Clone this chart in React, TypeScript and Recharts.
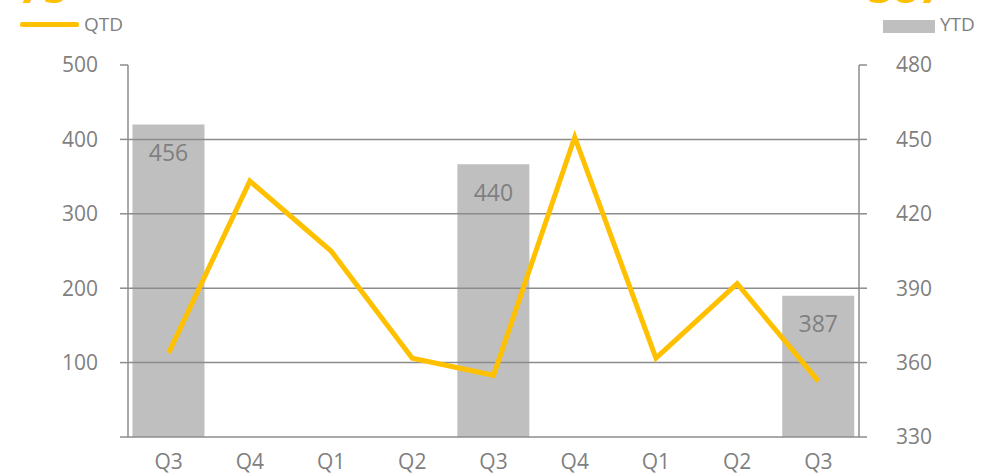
import React from "react";
import {
  ComposedChart,
  Bar,
  Line,
  XAxis,
  YAxis,
  ReferenceLine,
  LabelList,
} from "recharts";

// quarters on the x axis
const quarters = ["Q3", "Q4", "Q1", "Q2", "Q3", "Q4", "Q1", "Q2", "Q3"];
// QTD line (left axis)
const qtd = [113, 344, 250, 106, 83, 403, 106, 206, 75];
// YTD bars (right axis), only on the Q3 quarters
const ytd = [456, null, null, null, 440, null, null, null, 387];

const leftTicks = [0, 100, 200, 300, 400, 500];
const rightTicks = [330, 360, 390, 420, 450, 480];
const gridLines = [100, 200, 300, 400];

const axisColor = "#8c8c8c";
const textColor = "#7f7f7f";
const yellow = "#FFC000";
const barGray = "#BFBFBF";
const font = "'Open Sans', 'Liberation Sans', sans-serif";

const data = quarters.map((q, i) => ({ q, qtd: qtd[i], ytd: ytd[i] }));

export default function App() {
  const tickStyle = { fill: textColor, fontSize: 21, fontFamily: font };
  return (
    <div
      style={{
        position: "absolute",
        left: 0,
        top: 0,
        width: 982,
        height: 473,
        background: "#fff",
        overflow: "hidden",
        fontFamily: font,
      }}
    >
      {/* cut-off big numbers at the very top */}
      <div style={{ position: "absolute", left: 18, top: -44, fontSize: 44, color: yellow, fontWeight: 700 }}>
        75
      </div>
      <div style={{ position: "absolute", left: 868, top: -44, fontSize: 44, color: yellow, fontWeight: 700 }}>
        387
      </div>

      {/* legends */}
      <div style={{ position: "absolute", left: 20, top: 22, width: 59, height: 5, background: yellow, borderRadius: 2 }} />
      <div style={{ position: "absolute", left: 84, top: 11, fontSize: 19, color: textColor }}>QTD</div>
      <div style={{ position: "absolute", left: 883, top: 20, width: 52, height: 13, background: barGray }} />
      <div style={{ position: "absolute", left: 940, top: 11, fontSize: 19, color: textColor }}>YTD</div>

      <ComposedChart
        width={982}
        height={473}
        data={data}
        margin={{ top: 65, right: 0, bottom: 0, left: 0 }}
        barCategoryGap="5.5%"
      >
        <XAxis
          dataKey="q"
          height={36}
          tickLine={false}
          axisLine={{ stroke: axisColor, strokeWidth: 1.5 }}
          tick={tickStyle}
          tickMargin={11}
          interval={0}
        />
        <YAxis
          yAxisId="left"
          orientation="left"
          width={128}
          domain={[0, 500]}
          ticks={leftTicks}
          tickFormatter={(v) => (v === 0 ? "" : String(v))}
          axisLine={{ stroke: axisColor, strokeWidth: 1.5 }}
          tickLine={{ stroke: axisColor, strokeWidth: 1.5 }}
          tickSize={8}
          tickMargin={22}
          tick={tickStyle}
        />
        <YAxis
          yAxisId="right"
          orientation="right"
          width={123}
          domain={[330, 480]}
          ticks={rightTicks}
          axisLine={{ stroke: axisColor, strokeWidth: 1.5 }}
          tickLine={{ stroke: axisColor, strokeWidth: 1.5 }}
          tickSize={8}
          tickMargin={29}
          tick={tickStyle}
          allowDataOverflow
        />
        {gridLines.map((v) => (
          <ReferenceLine key={v} yAxisId="left" y={v} stroke={axisColor} strokeWidth={1.5} />
        ))}
        <Bar yAxisId="right" dataKey="ytd" fill={barGray} isAnimationActive={false}>
          <LabelList
            dataKey="ytd"
            position="insideTop"
            offset={20}
            style={{ fill: textColor, fontSize: 23, fontFamily: font }}
          />
        </Bar>
        <Line
          yAxisId="left"
          dataKey="qtd"
          type="linear"
          stroke={yellow}
          strokeWidth={5}
          dot={false}
          activeDot={false}
          isAnimationActive={false}
        />
      </ComposedChart>
    </div>
  );
}
